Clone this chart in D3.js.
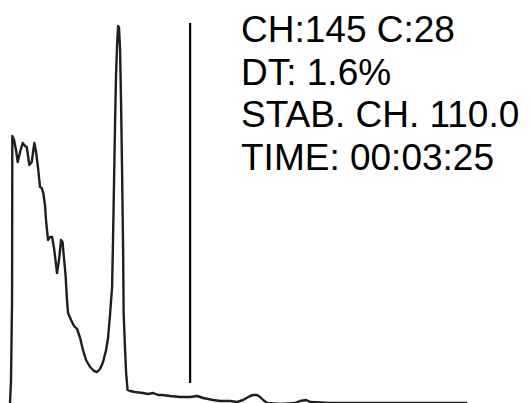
<!DOCTYPE html>
<html>
<head>
<meta charset="utf-8">
<script src="https://cdn.jsdelivr.net/npm/d3@7"></script>
<style>
  body { margin: 0; background: #fff; }
  svg { display: block; }
</style>
</head>
<body>
<div class="spectrum"></div>
<script>
const width = 531;
const height = 403;

// spectrum: channel and counts
const channels = [7.6, 8.4, 9.2, 9.4, 10.7, 12.2, 13.5, 15.3, 17.3, 19.1, 20.4, 22.4, 24.2, 26.2, 27.5,
    29.2, 30.5, 31.8, 33.0, 34.3, 35.1, 36.6, 38.2, 39.7, 41.2, 43.5, 45.0, 46.6, 47.7, 48.8,
    50.0, 51.1, 51.9, 54.2, 56.5, 58.8, 61.1, 63.3, 65.6, 68.7, 71.7, 74.0, 76.3, 78.6, 80.9,
    82.4, 83.9, 85.5, 86.2, 87.0, 87.8, 88.5, 89.3, 90.1, 90.8, 91.6, 92.3, 93.1, 93.9, 94.3,
    95.4, 96.2, 97.3, 99.2, 103.0, 109.1, 112.9, 116.8, 120.6, 123.6, 129.7, 137.4, 145.0, 150.4, 154.9,
    162.6, 167.9, 175.5, 180.9, 185.4, 190.8, 193.1, 196.1, 198.4, 200.7, 203.8, 213.7, 225.1, 228.9, 233.5,
    236.6, 251.8, 274.7, 305.3, 335.8, 356.4];
const counts = [0, 24, 104, 268, 264, 254, 242, 252, 261, 258, 257, 239, 242, 261, 252,
    234, 217, 216, 211, 199, 184, 164, 167, 167, 156, 131, 144, 164, 162, 146,
    129, 104, 91, 84, 78, 75, 66, 54, 44, 37, 33, 32, 35, 42, 54,
    66, 89, 117, 164, 224, 284, 329, 359, 378, 376, 354, 304, 234, 154, 91,
    54, 31, 14, 13, 12, 11, 10, 11, 9, 9, 8, 7, 7, 8, 6,
    4, 3, 3, 2, 4, 8, 9, 9, 7, 4, 1, 0, 1, 3, 4,
    2, 1, 1, 1, 1, 1];

// cursor
const cursor_ch = 145;
const cursor_range = [21, 381];

// readout lines
const readout = ["CH:145 C:28", "DT: 1.6%", "STAB. CH. 110.0", "TIME: 00:03:25"];

const svg = d3.select('.spectrum')
    .append('svg')
    .attr('width', width)
    .attr('height', height);

const x_scale = d3.scaleLinear()
    .domain([0, 405])
    .range([0, width]);

const y_scale = d3.scaleLinear()
    .domain([0, 400])
    .range([404, 4]);

const data = channels.map(function(c, i) { return { ch: c, n: counts[i] }; });

const line = d3.line()
    .x(function(d) { return x_scale(d.ch); })
    .y(function(d) { return y_scale(d.n); });

svg.append("path")
    .datum(data)
    .attr("d", line)
    .attr("fill", "none")
    .attr("stroke", "#1e1e1e")
    .attr("stroke-width", 2.4)
    .attr("stroke-linejoin", "round");

// cursor line
svg.append("line")
    .attr("x1", x_scale(cursor_ch))
    .attr("x2", x_scale(cursor_ch))
    .attr("y1", y_scale(cursor_range[1]))
    .attr("y2", y_scale(cursor_range[0]))
    .attr("stroke", "#000")
    .attr("stroke-width", 2.2);

svg.selectAll("text.readout")
    .data(readout)
    .enter()
    .append("text")
    .attr("class", "readout")
    .attr("x", 241)
    .attr("y", function(d, i) { return 42 + i * 42.7; })
    .attr("font-family", "'Liberation Sans', Arial, sans-serif")
    .attr("font-size", 37)
    .attr("fill", "#000")
    .text(function(d) { return d; });
</script>
</body>
</html>
